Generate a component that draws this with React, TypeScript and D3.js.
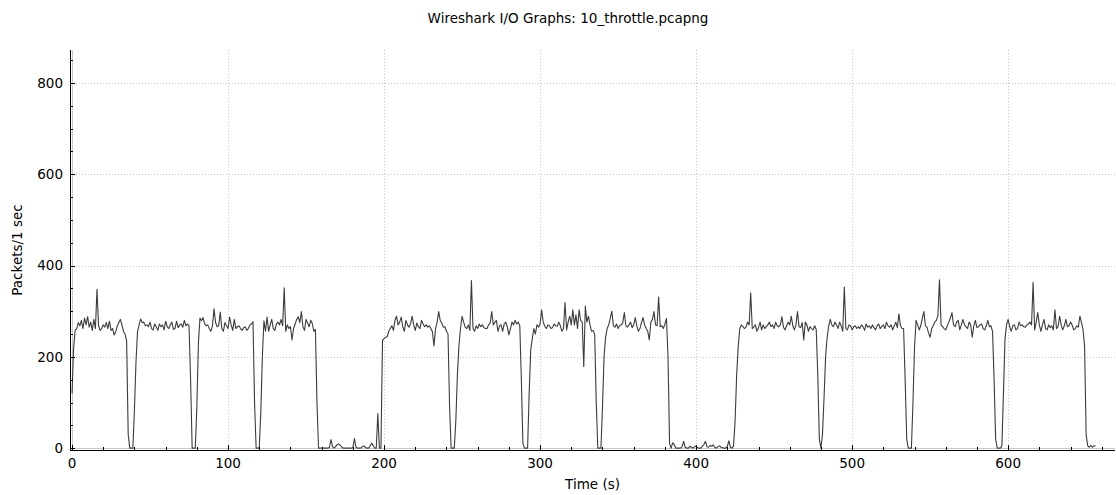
import { useRef, useEffect } from "react";
import * as d3 from "d3";

// packets per 1 s interval, index = seconds since capture start
const packets: number[] = [
  120, 218, 258, 262, 275, 268, 280, 262, 285, 270,
  288, 265, 276, 258, 282, 262, 348, 268, 258, 262,
  270, 265, 275, 262, 278, 258, 262, 248, 255, 268,
  275, 282, 270, 255, 250, 235, 30, 0, 0, 0,
  84, 190, 256, 270, 283, 275, 276, 268, 270, 266,
  276, 262, 259, 272, 266, 258, 272, 266, 270, 259,
  278, 266, 262, 270, 276, 260, 262, 278, 264, 270,
  272, 265, 280, 268, 272, 268, 150, 0, 0, 0,
  90, 230, 285, 279, 286, 272, 268, 270, 262, 256,
  268, 305, 275, 266, 268, 298, 262, 256, 275, 268,
  262, 287, 270, 258, 282, 262, 266, 268, 262, 258,
  264, 266, 258, 262, 270, 272, 277, 100, 0, 0,
  0, 80, 200, 279, 256, 287, 256, 270, 282, 262,
  258, 272, 276, 270, 282, 268, 351, 256, 270, 262,
  266, 237, 262, 272, 282, 288, 275, 299, 266, 258,
  282, 274, 266, 280, 273, 256, 260, 100, 0, 0,
  0, 0, 0, 0, 0, 2, 19, 3, 0, 4,
  8, 9, 6, 2, 0, 0, 0, 0, 0, 0,
  1, 21, 2, 0, 0, 0, 3, 5, 2, 0,
  0, 4, 11, 6, 0, 0, 76, 0, 0, 236,
  240, 243, 244, 256, 262, 268, 258, 280, 289, 270,
  276, 287, 266, 256, 280, 270, 265, 272, 289, 270,
  258, 274, 266, 262, 280, 272, 266, 270, 265, 268,
  262, 255, 224, 262, 276, 299, 280, 274, 265, 266,
  256, 250, 90, 0, 0, 0, 60, 160, 225, 262,
  289, 276, 265, 262, 270, 258, 367, 262, 256, 268,
  262, 272, 266, 270, 264, 262, 262, 270, 274, 299,
  270, 276, 280, 256, 268, 270, 256, 272, 276, 266,
  248, 262, 276, 270, 280, 272, 276, 268, 150, 10,
  0, 0, 0, 120, 215, 240, 262, 250, 270, 265,
  272, 303, 276, 267, 262, 270, 268, 262, 264, 272,
  268, 267, 276, 268, 256, 262, 319, 259, 276, 289,
  270, 303, 270, 292, 262, 303, 280, 276, 179, 311,
  276, 289, 270, 256, 258, 249, 100, 0, 0, 0,
  90, 200, 243, 262, 270, 285, 300, 268, 265, 272,
  262, 268, 270, 275, 297, 268, 265, 270, 276, 264,
  270, 286, 268, 256, 262, 275, 286, 270, 262, 256,
  237, 276, 282, 299, 270, 268, 331, 266, 268, 262,
  272, 284, 200, 10, 0, 12, 8, 0, 0, 0,
  0, 3, 15, 2, 0, 0, 4, 2, 0, 3,
  5, 1, 0, 0, 4, 8, 15, 3, 2, 6,
  4, 7, 2, 0, 3, 5, 2, 1, 0, 0,
  4, 16, 2, 0, 5, 60, 160, 223, 262, 270,
  266, 262, 265, 276, 270, 340, 262, 265, 270, 256,
  264, 276, 259, 270, 262, 266, 270, 276, 266, 270,
  262, 276, 268, 266, 270, 288, 265, 259, 268, 276,
  270, 289, 268, 259, 270, 299, 266, 264, 275, 237,
  276, 270, 256, 266, 262, 259, 268, 260, 160, 20,
  0, 30, 110, 200, 243, 268, 282, 270, 266, 276,
  270, 262, 276, 268, 256, 353, 262, 259, 270, 268,
  259, 266, 268, 262, 266, 262, 270, 266, 258, 272,
  265, 268, 262, 270, 264, 259, 268, 272, 262, 266,
  270, 262, 276, 268, 265, 270, 259, 268, 276, 264,
  294, 268, 262, 262, 150, 20, 0, 0, 0, 100,
  220, 280, 270, 259, 268, 285, 299, 268, 265, 252,
  243, 262, 268, 276, 280, 290, 369, 270, 266, 262,
  259, 268, 276, 285, 297, 270, 266, 276, 280, 259,
  270, 282, 270, 266, 262, 276, 270, 243, 268, 280,
  264, 266, 270, 272, 262, 259, 268, 280, 266, 268,
  256, 150, 20, 0, 0, 0, 5, 120, 240, 270,
  282, 266, 256, 268, 270, 259, 262, 276, 268, 270,
  266, 265, 270, 272, 276, 270, 363, 259, 276, 297,
  270, 256, 270, 282, 262, 259, 270, 264, 268, 259,
  303, 262, 266, 289, 270, 259, 268, 282, 266, 268,
  276, 270, 259, 262, 268, 265, 289, 275, 260, 224,
  30, 5, 2, 6, 2, 5, 5,
];

const xMajor = [0, 100, 200, 300, 400, 500, 600];
const xMinor = d3.range(0, 661, 20);
const yMajor = [0, 200, 400, 600, 800];
const yMinor = d3.range(0, 851, 50);

const TITLE = "Wireshark I/O Graphs: 10_throttle.pcapng";
const X_LABEL = "Time (s)";
const Y_LABEL = "Packets/1 sec";

const W = 1116;
const H = 495;
const FONT = "DejaVu Sans, sans-serif";

export default function App() {
  const svgRef = useRef<SVGSVGElement | null>(null);

  useEffect(() => {
    const svg = d3.select(svgRef.current);
    svg.selectAll("*").remove();

    const left = 70;
    const right = 1115;
    const top = 50;
    const bottom = 450;

    const x = d3.scaleLinear().domain([-1.3, 668.5]).range([left, right]);
    const y = d3.scaleLinear().domain([-4, 872]).range([bottom, top]);

    svg.append("rect").attr("width", W).attr("height", H).attr("fill", "#fff");

    // --- Grid ---
    const grid = svg.append("g");
    xMajor.filter((d) => d !== 0).forEach((d) => {
      grid.append("line")
        .attr("x1", Math.round(x(d)) + 0.5).attr("x2", Math.round(x(d)) + 0.5)
        .attr("y1", top).attr("y2", bottom)
        .attr("stroke", "#c8c8c8").attr("stroke-dasharray", "1,2");
    });
    yMajor.filter((d) => d !== 0).forEach((d) => {
      grid.append("line")
        .attr("x1", left).attr("x2", right)
        .attr("y1", Math.round(y(d)) + 0.5).attr("y2", Math.round(y(d)) + 0.5)
        .attr("stroke", "#c8c8c8").attr("stroke-dasharray", "1,2");
    });
    // zero lines
    grid.append("line")
      .attr("x1", Math.round(x(0)) + 0.5).attr("x2", Math.round(x(0)) + 0.5)
      .attr("y1", top).attr("y2", bottom)
      .attr("stroke", "#c8c8c8");
    grid.append("line")
      .attr("x1", left).attr("x2", right)
      .attr("y1", Math.round(y(0)) + 0.5).attr("y2", Math.round(y(0)) + 0.5)
      .attr("stroke", "#c8c8c8");

    // --- Data line ---
    const line = d3.line<number>()
      .x((_, i) => x(i))
      .y((d) => y(d));
    svg.append("path")
      .datum(packets)
      .attr("d", line)
      .attr("fill", "none")
      .attr("stroke", "#3c3c3c")
      .attr("stroke-width", 1.1)
      .attr("stroke-linejoin", "round");

    // --- Axes ---
    const ax = svg.append("g").attr("stroke", "#000");
    ax.append("line")
      .attr("x1", left + 0.5).attr("x2", left + 0.5)
      .attr("y1", top).attr("y2", bottom + 0.5);
    ax.append("line")
      .attr("x1", left).attr("x2", right)
      .attr("y1", bottom + 0.5).attr("y2", bottom + 0.5);

    yMinor.forEach((d) => {
      const major = yMajor.includes(d);
      const yy = Math.round(y(d)) + 0.5;
      ax.append("line")
        .attr("x1", left).attr("x2", left + (major ? 5 : 3))
        .attr("y1", yy).attr("y2", yy);
    });
    xMinor.forEach((d) => {
      const major = xMajor.includes(d);
      const xx = Math.round(x(d)) + 0.5;
      ax.append("line")
        .attr("x1", xx).attr("x2", xx)
        .attr("y1", bottom).attr("y2", bottom - (major ? 5 : 3));
    });

    const lbl = svg.append("g")
      .attr("font-family", FONT)
      .attr("font-size", 13.5)
      .attr("fill", "#000");

    yMajor.forEach((d) => {
      lbl.append("text")
        .attr("x", left - 7)
        .attr("y", y(d))
        .attr("dy", "0.35em")
        .attr("text-anchor", "end")
        .text(d);
    });
    xMajor.forEach((d) => {
      lbl.append("text")
        .attr("x", x(d))
        .attr("y", 463)
        .attr("dy", "0.35em")
        .attr("text-anchor", "middle")
        .text(d);
    });

    lbl.append("text")
      .attr("x", (left + right) / 2)
      .attr("y", 484)
      .attr("dy", "0.35em")
      .attr("text-anchor", "middle")
      .text(X_LABEL);

    lbl.append("text")
      .attr("transform", `translate(17,${(top + bottom) / 2}) rotate(-90)`)
      .attr("dy", "0.35em")
      .attr("text-anchor", "middle")
      .text(Y_LABEL);

    svg.append("text")
      .attr("x", 568)
      .attr("y", 18)
      .attr("dy", "0.35em")
      .attr("text-anchor", "middle")
      .attr("font-family", FONT)
      .attr("font-size", 13.5)
      .attr("fill", "#000")
      .text(TITLE);
  }, []);

  return (
    <svg
      ref={svgRef}
      width={W}
      height={H}
      style={{ position: "absolute", left: 0, top: 0, display: "block" }}
    />
  );
}
